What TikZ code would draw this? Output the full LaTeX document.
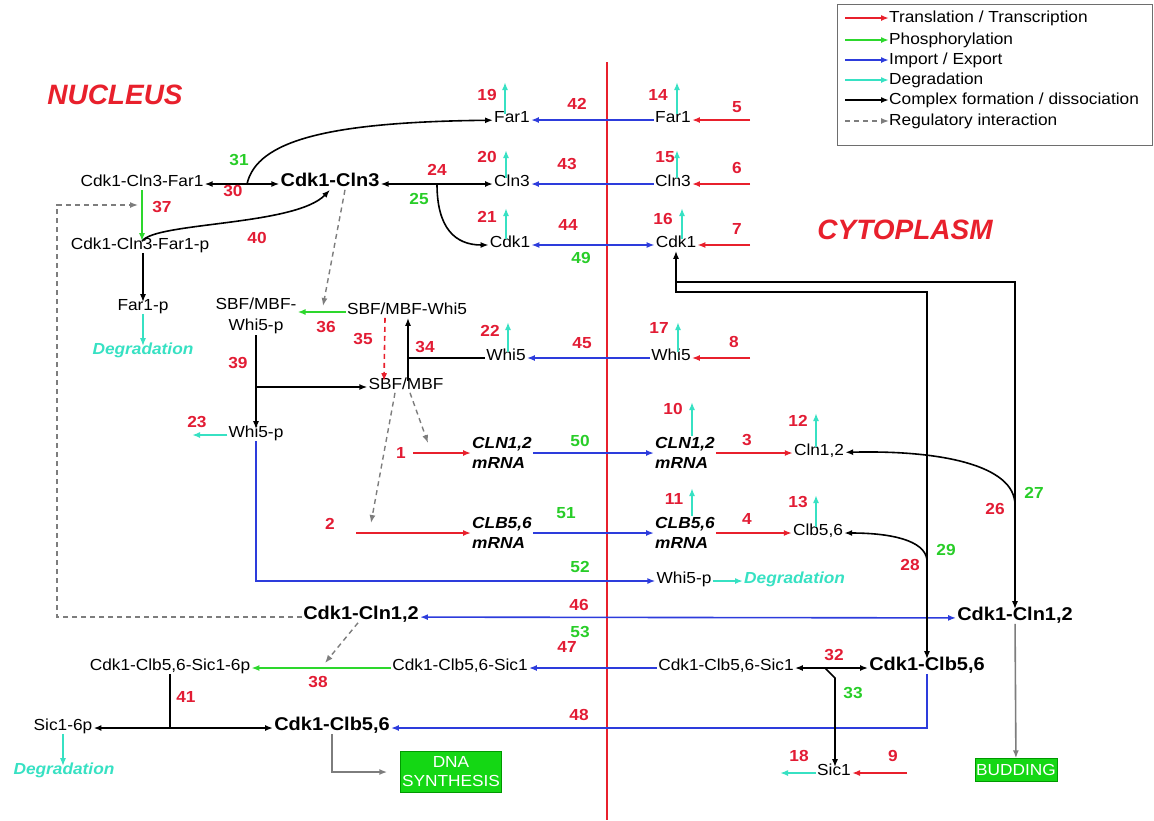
\documentclass[tikz,border=0pt]{standalone}
\usepackage{fontspec}
\setmainfont{Liberation Sans}[FakeStretch=1.08]
\newfontfamily\regionfont{Liberation Sans}
\usetikzlibrary{arrows.meta, positioning, calc}
\definecolor{TrRed}{RGB}{232,32,44}
\definecolor{NumRed}{RGB}{226,28,52}
\definecolor{PhGreen}{RGB}{45,215,45}
\definecolor{NumGreen}{RGB}{40,205,40}
\definecolor{IeBlue}{RGB}{45,60,220}
\definecolor{DgCyan}{RGB}{55,225,195}
\definecolor{RgGray}{RGB}{125,125,125}
\definecolor{BoxGreen}{RGB}{20,215,20}
\definecolor{LegGray}{RGB}{110,110,110}

\begin{document}
\begin{tikzpicture}[x=1pt, y=-1pt,
  >={Latex[length=8pt,width=6pt]},
  trl/.style={->, draw=TrRed, line width=1.6pt},
  phos/.style={->, draw=PhGreen, line width=1.6pt},
  imex/.style={->, draw=IeBlue, line width=1.6pt},
  degr/.style={->, draw=DgCyan, line width=1.6pt},
  cplx/.style={->, draw=black, line width=1.6pt},
  regl/.style={->, draw=RgGray, line width=1.4pt, dash pattern=on 5pt off 4pt},
  outc/.style={->, draw=RgGray, line width=1.6pt},
  spec/.style={font=\fontsize{16}{19}\selectfont, inner sep=1pt,
               text height=0.72em, text depth=0.2em},
  spec2/.style={font=\fontsize{16}{21}\selectfont, inner sep=1pt, align=center},
  bigspec/.style={font=\fontsize{18.5}{22}\selectfont\bfseries, inner sep=1pt,
                  text height=0.72em, text depth=0.2em},
  mrna/.style={font=\fontsize{16}{20}\selectfont\bfseries\itshape, inner sep=1pt,
               align=left},
  degtxt/.style={font=\fontsize{16}{19}\selectfont\bfseries\itshape, text=DgCyan,
                 inner sep=1pt, text height=0.72em, text depth=0.2em},
  num/.style={font=\fontsize{16}{19}\selectfont\bfseries, text=NumRed, inner sep=0pt},
  gnum/.style={num, text=NumGreen},
  phase/.style={draw=green!60!black, fill=BoxGreen, text=white, inner sep=1pt,
                font=\fontsize{16}{19}\selectfont, align=center},
  region/.style={font=\regionfont\fontsize{28}{32}\selectfont\bfseries\itshape,
                 text=TrRed},
  legtxt/.style={font=\fontsize{16}{19}\selectfont, inner sep=0pt},
  membrane/.style={draw=TrRed, line width=2.8pt}
]
\useasboundingbox (0,0) rectangle (1154,820);

% Legend
\draw[draw=LegGray, line width=0.8pt] (837,4) rectangle (1152,145);
\foreach \i/\s/\y/\t in {1/trl/18/{Translation / Transcription},
  2/phos/40/{Phosphorylation}, 3/imex/60/{Import / Export},
  4/degr/80/{Degradation}, 5/cplx/100/{Complex formation / dissociation},
  6/regl/121/{Regulatory interaction}}
{
  \coordinate (lg\i) at (845,\y);
  \node[legtxt, anchor=west] (lt\i) at (889,\y) {\t};
  \draw[\s] (lg\i) -- (lt\i);
}

% Compartments
\node[region] (nucleus) at (115,95) {NUCLEUS};
\node[region] (cytoplasm) at (905,230) {CYTOPLASM};
\coordinate (memtop) at (607,62);
\coordinate (membot) at (607,820);
\draw[membrane] (memtop) -- (membot);

% Species (nucleus)
\node[spec] (FarN) at (512,120) {Far1};
\node[spec] (ClnN) at (512,184) {Cln3};
\node[spec] (CdkN) at (510,245) {Cdk1};
\node[spec] (WhiN) at (506,358) {Whi5};
\node[bigspec] (CCln3) at (330,184) {Cdk1-Cln3};
\node[spec] (CCF) at (142,184) {Cdk1-Cln3-Far1};
\node[spec] (CCFp) at (140,247) {Cdk1-Cln3-Far1-p};
\node[spec] (Farp) at (143,308) {Far1-p};
\node[degtxt] (dFarp) at (143,352) {Degradation};
\node[spec] (SBW) at (407,312) {SBF/MBF-Whi5};
\node[spec2] (SBWp) at (256,316) {SBF/MBF-\\Whi5-p};
\node[spec] (SB) at (406,387) {SBF/MBF};
\node[spec] (WhP) at (256,435) {Whi5-p};
\node[mrna] (mCLNn) at (502,453) {CLN1,2\\mRNA};
\node[mrna] (mCLBn) at (502,533) {CLB5,6\\mRNA};
\node[bigspec] (CCln12n) at (361,617) {Cdk1-Cln1,2};
\node[spec] (CCSn) at (460,668) {Cdk1-Clb5,6-Sic1};
\node[spec] (CCSp) at (170,668) {Cdk1-Clb5,6-Sic1-6p};
\node[spec] (Sic1p) at (63,728) {Sic1-6p};
\node[degtxt] (dSic1p) at (64,772) {Degradation};
\node[bigspec] (CClb56n) at (332,728) {Cdk1-Clb5,6};
\node[phase, minimum width=101pt, minimum height=41pt] (dna) at (451,772) {DNA\\SYNTHESIS};

% Species (cytoplasm)
\node[spec] (FarC) at (673,120) {Far1};
\node[spec] (ClnC) at (673,184) {Cln3};
\node[spec] (CdkC) at (676,245) {Cdk1};
\node[spec] (WhiC) at (671,358) {Whi5};
\node[mrna] (mCLNc) at (685,453) {CLN1,2\\mRNA};
\node[mrna] (mCLBc) at (685,533) {CLB5,6\\mRNA};
\node[spec] (Cln12) at (819,453) {Cln1,2};
\node[spec] (Clb56) at (818,533) {Clb5,6};
\node[spec] (WhPc) at (684,581) {Whi5-p};
\node[degtxt, anchor=west] (dWhPc) at (743,581) {Degradation};
\node[bigspec] (CCln12c) at (1015,618) {Cdk1-Cln1,2};
\node[spec] (CCSc) at (726,668) {Cdk1-Clb5,6-Sic1};
\node[bigspec] (CClb56c) at (927,668) {Cdk1-Clb5,6};
\node[spec] (Sic1c) at (834,773) {Sic1};
\node[phase, minimum height=23pt] (bud) at (1016,770) {BUDDING};

% Synthesis in the cytoplasm
\foreach \n/\t in {5/FarC, 6/ClnC, 7/CdkC, 8/WhiC}
  {\coordinate (src\n) at (\t -| 750,0);}
\coordinate (src9) at (907,773);
\foreach \n/\t in {5/FarC, 6/ClnC, 7/CdkC, 8/WhiC, 9/Sic1c}
  {\draw[trl] (src\n) -- (\t);}
\coordinate (s1) at (413,453);
\coordinate (s2) at (356,533);
\draw[trl] (s1) -- (mCLNn);
\draw[trl] (s2) -- (mCLBn);
\draw[trl] (mCLNc) -- (Cln12);
\draw[trl] (mCLBc) -- (Clb56);

% Degradation
\foreach \n/\t/\x/\y in {19/FarN/505/82, 14/FarC/677/82, 20/ClnN/506/150,
  15/ClnC/677/150, 21/CdkN/506/208, 16/CdkC/682/208, 22/WhiN/508/322,
  17/WhiC/678/322, 10/mCLNc/692/402, 11/mCLBc/692/488, 12/Cln12/816/413,
  13/Clb56/816/495}
{
  \coordinate (dg\n) at (\x,\y);
  \draw[degr] (\t.north -| dg\n) -- (dg\n);
}
\coordinate (dg23) at (192,435);
\coordinate (dg18) at (780,773);
\draw[degr] (WhP) -- (dg23);
\draw[degr] (Sic1c) -- (dg18);
\draw[degr] (Farp) -- (dFarp);
\draw[degr] (Sic1p) -- (Sic1p |- dSic1p.north);
\draw[degr] (WhPc) -- (dWhPc);

% Import / export
\draw[imex] (FarC) -- (FarN);
\draw[imex] (ClnC) -- (ClnN);
\draw[imex, <->] (CdkN) -- (CdkC);
\draw[imex] (WhiC) -- (WhiN);
\draw[imex] (mCLNn) -- (mCLNc);
\draw[imex] (mCLBn) -- (mCLBc);
\draw[imex] (WhP.south) |- (WhPc);
\draw[imex, <->] (CCln12n) -- (CCln12c);
\draw[imex] (CCSc) -- (CCSn);
\draw[imex] (CClb56c.south) |- (CClb56n);

% Complexes
\draw[cplx, <->] (CCF) -- (CCln3);
\coordinate (b30) at (247,184);
\draw[cplx] (b30) .. controls (257,140) and (330,122) .. (FarN);
\draw[cplx] (CCFp.north -| CCF) .. controls (155,222) and (295,226) .. (CCln3.south);
\draw[cplx] (CCFp.south -| Farp) -- (Farp);
\draw[cplx, <->] (CCln3) -- (ClnN);
\coordinate (b24) at (437,184);
\draw[cplx] (b24) .. controls (437,228) and (455,245) .. (CdkN);
\coordinate (j34) at (408,358);
\draw[cplx, -] (WhiN) -- (j34);
\draw[cplx] (SB.north -| j34) -- (SBW.south -| j34);
\coordinate (j39) at (256,387);
\draw[cplx] (SBWp.south) -- (SBWp.south |- WhP.north);
\draw[cplx] (j39) -- (SB);
\coordinate (k1) at (676,282);
\coordinate (k2) at (676,292);
\draw[cplx, <->, shorten >=3pt] (CdkC) -- (k2) -| (CClb56c);
\draw[cplx, shorten >=3pt] (k1) -| (CCln12c);
\coordinate (b26) at (1015,505);
\draw[cplx] (b26) .. controls (1015,465) and (940,450) .. (Cln12);
\coordinate (b28) at (927,560);
\draw[cplx] (b28) .. controls (925,540) and (890,533) .. (Clb56);
\draw[cplx, <->] (CCSc) -- (CClb56c);
\coordinate (b32) at (825,668);
\coordinate (k32) at (835,678);
\draw[cplx] (b32) -- (k32) -- (k32 |- Sic1c.north);
\coordinate (j41) at (170,728);
\draw[cplx, -] (CCSp) -- (j41);
\draw[cplx, <->] (Sic1p) -- (CClb56n);

% Phosphorylation
\draw[phos] (CCF) -- (CCF |- CCFp.north);
\draw[phos] (SBW) -- (SBWp.east |- SBW);
\draw[phos] (CCSn) -- (CCSp);

% Regulation
\draw[trl, dash pattern=on 5pt off 4pt] ([xshift=-22pt]SBW.south) -- ([xshift=-22pt]SB.north);
\coordinate (r36) at (323,306);
\draw[regl] ([xshift=15pt]CCln3.south) -- (r36);
\coordinate (r1) at (428,443);
\coordinate (r2) at (371,523);
\draw[regl] ([xshift=4pt]SB.south) -- (r1);
\draw[regl] ([xshift=-11pt]SB.south) -- (r2);
\coordinate (q2) at (57,205);
\coordinate (q3) at (138,205);
\draw[regl] (CCln12n) -| (q2) -- (q3);
\coordinate (r38) at (325,663);
\draw[regl] ([xshift=-3pt]CCln12n.south) -- (r38);

% Cell cycle events
\draw[outc] (CCln12c) -- (bud);
\draw[outc, shorten >=13pt] (CClb56n.south) |- (dna);

% Reaction numbers
\foreach \n/\x/\y in {1/401/453, 2/330/524, 3/747/440, 4/747/519, 5/737/107,
  6/737/168, 7/737/229, 8/734/342, 9/893/756, 10/673/409, 11/674/499,
  12/798/421, 13/798/502, 14/658/95, 15/665/157, 16/663/219, 17/659/328,
  18/799/756, 19/487/95, 20/487/157, 21/487/217, 22/490/331, 23/197/422,
  24/437/170, 26/995/509, 28/910/565, 30/233/191, 32/834/655, 34/425/347,
  35/363/339, 36/326/327, 37/162/207, 38/318/682, 39/238/363, 40/257/238,
  41/186/697, 42/577/104, 43/567/164, 44/568/225, 45/582/343, 46/579/605,
  47/567/647, 48/579/715}
  {\node[num] (n\n) at (\x,\y) {\n};}
\foreach \n/\x/\y in {25/419/199, 27/1034/493, 29/946/550, 31/239/160,
  33/853/693, 49/581/258, 50/580/441, 51/566/513, 52/580/567, 53/580/632}
  {\node[gnum] (n\n) at (\x,\y) {\n};}
\end{tikzpicture}
\end{document}
